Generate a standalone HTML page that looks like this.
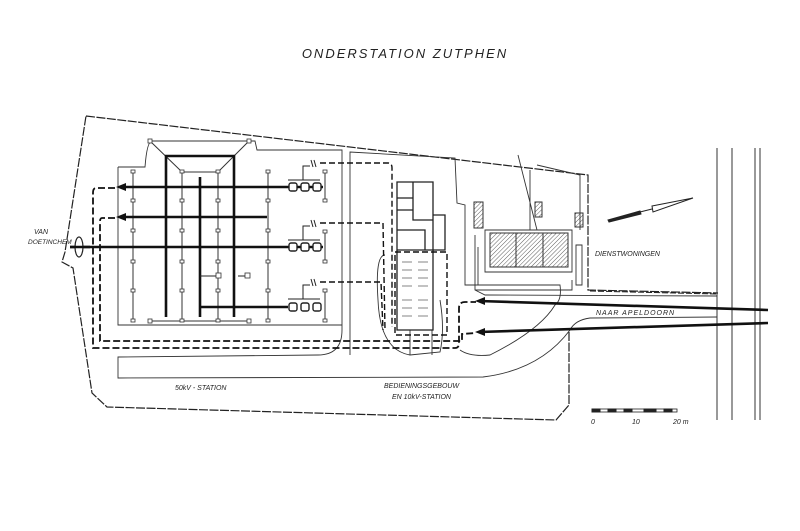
<!DOCTYPE html>
<html><head><meta charset="utf-8"><style>
html,body{margin:0;padding:0;background:#fff;}
svg{display:block;}
text{font-family:"Liberation Sans",sans-serif;font-style:italic;fill:#222;}
</style></head><body>
<svg width="800" height="531" viewBox="0 0 800 531" xmlns="http://www.w3.org/2000/svg">
<rect width="800" height="531" fill="#fff"/>
<defs>
<pattern id="h" width="3" height="3" patternUnits="userSpaceOnUse" patternTransform="rotate(45)"><line x1="0" y1="0" x2="0" y2="3" stroke="#333" stroke-width="0.8"/></pattern>
</defs>
<text x="405" y="58" font-size="13" text-anchor="middle" letter-spacing="2">ONDERSTATION ZUTPHEN</text>

<path d="M86,116 L588,175 L588,290 L718,293 M569,332 L569,405 L556,420 L107,407 L92,393 L73,268 L62,262 L65,252 L86,116" fill="none" stroke="#222" stroke-width="1.2" stroke-dasharray="9,1.5"/>

<g stroke="#333" stroke-width="1">
<line x1="717" y1="148" x2="717" y2="420"/><line x1="732" y1="148" x2="732" y2="420"/>
<line x1="755" y1="148" x2="755" y2="420"/><line x1="760" y1="148" x2="760" y2="420"/>
</g>

<g fill="none" stroke="#333" stroke-width="0.9">
<path d="M118,167 L145,167 Q147,141 152,141 L255,141 L257,150 L342,150 L342,330 Q342,355 318,355 L118,357 L118,378 L483,377 Q540,370 570,330 Q575,320 590,318 L717,317"/>
<path d="M118,167 L118,325 L342,325"/>
<path d="M350,355 L350,152 L455,158 L457,203 L465,205 L465,285 L560,285 Q562,300 555,305 Q540,330 490,355 Q470,357 460,350"/>
<path d="M475,235 L475,290 L485,295 L717,296"/>
<path d="M485,230 L572,230 L572,272 L485,272 Z"/>
<path d="M475,290 L572,290 L572,280"/>
<path d="M518,155 L537,230 M530,170 L530,230 M537,165 L580,175 L580,230"/>
<path d="M576,245 L582,245 L582,285 L576,285 Z"/>
<path d="M478,247 L478,285"/>
<path d="M385,255 Q375,255 378,300 Q380,350 410,355 L440,352 Q445,330 440,300"/>
<path d="M410,330 L410,355 M432,330 L432,355"/>
</g>

<g stroke="#333" stroke-width="1">
<rect x="490" y="233" width="78" height="34" fill="url(#h)"/>
<line x1="516" y1="233" x2="516" y2="267"/><line x1="543" y1="233" x2="543" y2="267"/>
<rect x="474" y="202" width="9" height="26" fill="url(#h)"/>
<rect x="535" y="202" width="7" height="15" fill="url(#h)"/>
<rect x="575" y="213" width="8" height="14" fill="url(#h)"/>
</g>

<g fill="none" stroke="#222" stroke-width="1.3">
<path d="M397,182 L433,182 L433,250 L397,250 Z"/>
<path d="M413,182 L413,220 L433,220 M397,198 L413,198 M397,210 L413,210 M397,230 L425,230 L425,250"/>
<path d="M433,215 L445,215 L445,250 L433,250"/>
<path d="M397,250 L397,330 L433,330 L433,250"/>
</g>
<g stroke="#666" stroke-width="0.8">
<line x1="402" y1="262" x2="412" y2="262"/><line x1="402" y1="270" x2="412" y2="270"/><line x1="402" y1="278" x2="412" y2="278"/><line x1="402" y1="286" x2="412" y2="286"/><line x1="402" y1="300" x2="412" y2="300"/><line x1="402" y1="308" x2="412" y2="308"/><line x1="402" y1="316" x2="412" y2="316"/>
<line x1="418" y1="262" x2="428" y2="262"/><line x1="418" y1="270" x2="428" y2="270"/><line x1="418" y1="278" x2="428" y2="278"/><line x1="418" y1="286" x2="428" y2="286"/><line x1="418" y1="300" x2="428" y2="300"/><line x1="418" y1="308" x2="428" y2="308"/><line x1="418" y1="316" x2="428" y2="316"/>
</g>

<g stroke="#333" stroke-width="1" fill="#fff">
<line x1="133" y1="172" x2="133" y2="321"/><line x1="182" y1="172" x2="182" y2="321"/>
<line x1="218" y1="172" x2="218" y2="321"/><line x1="268" y1="172" x2="268" y2="321"/>
<path d="M150,141 L182,172 L218,172 L249,141 M150,321 L249,321" fill="none"/>
<line x1="325" y1="172" x2="325" y2="200"/><line x1="325" y1="232" x2="325" y2="262"/><line x1="325" y1="290" x2="325" y2="321"/>
</g>
<g stroke="#333" stroke-width="0.8" fill="#fff">
<rect x="131" y="170" width="4" height="3"/><rect x="131" y="199" width="4" height="3"/><rect x="131" y="229" width="4" height="3"/><rect x="131" y="260" width="4" height="3"/><rect x="131" y="289" width="4" height="3"/><rect x="131" y="319" width="4" height="3"/>
<rect x="180" y="170" width="4" height="3"/><rect x="180" y="199" width="4" height="3"/><rect x="180" y="229" width="4" height="3"/><rect x="180" y="260" width="4" height="3"/><rect x="180" y="289" width="4" height="3"/><rect x="180" y="319" width="4" height="3"/>
<rect x="216" y="170" width="4" height="3"/><rect x="216" y="199" width="4" height="3"/><rect x="216" y="229" width="4" height="3"/><rect x="216" y="260" width="4" height="3"/><rect x="216" y="289" width="4" height="3"/><rect x="216" y="319" width="4" height="3"/>
<rect x="266" y="170" width="4" height="3"/><rect x="266" y="199" width="4" height="3"/><rect x="266" y="229" width="4" height="3"/><rect x="266" y="260" width="4" height="3"/><rect x="266" y="289" width="4" height="3"/><rect x="266" y="319" width="4" height="3"/>
<rect x="148" y="139" width="4" height="4"/><rect x="247" y="139" width="4" height="4"/><rect x="148" y="319" width="4" height="4"/><rect x="247" y="319" width="4" height="4"/>
<rect x="323" y="170" width="4" height="3"/><rect x="323" y="199" width="4" height="3"/><rect x="323" y="230" width="4" height="3"/><rect x="323" y="260" width="4" height="3"/><rect x="323" y="289" width="4" height="3"/><rect x="323" y="319" width="4" height="3"/>
<rect x="216" y="273" width="5" height="5"/><rect x="245" y="273" width="5" height="5"/>
</g>
<g stroke="#111" fill="none" stroke-width="2.6">
<path d="M166,317 L166,156 L234,156 L234,317"/>
<path d="M200,177 L200,317 M200,307 L288,307"/>
<line x1="120" y1="187" x2="323" y2="187"/>
<line x1="120" y1="217" x2="267" y2="217"/>
<line x1="70" y1="247" x2="323" y2="247"/>
<line x1="479" y1="301" x2="768" y2="310"/>
<line x1="479" y1="332" x2="768" y2="323"/>
</g>
<g stroke="#222" stroke-width="1"><line x1="200" y1="276" x2="216" y2="276"/><line x1="238" y1="276" x2="245" y2="276"/></g>
<g fill="#111">
<polygon points="116,187 126,183 126,191"/><polygon points="116,217 126,213 126,221"/>
<polygon points="475,301 485,297 485,305"/><polygon points="475,332 485,328 485,336"/>
</g>
<ellipse cx="79" cy="247" rx="4" ry="10" fill="#fff" stroke="#222" stroke-width="1.2"/>
<line x1="70" y1="247" x2="90" y2="247" stroke="#111" stroke-width="2.6"/>

<g fill="#fff" stroke="#222" stroke-width="1.4">
<rect x="289" y="183" width="8" height="8" rx="2"/><rect x="301" y="183" width="8" height="8" rx="2"/><rect x="313" y="183" width="8" height="8" rx="2"/>
<rect x="289" y="243" width="8" height="8" rx="2"/><rect x="301" y="243" width="8" height="8" rx="2"/><rect x="313" y="243" width="8" height="8" rx="2"/>
<rect x="289" y="303" width="8" height="8" rx="2"/><rect x="301" y="303" width="8" height="8" rx="2"/><rect x="313" y="303" width="8" height="8" rx="2"/>
</g>
<g stroke="#222" stroke-width="1" fill="none">
<path d="M288,180 L320,180 M303,180 L303,166 L310,166 M311,160 L313,167 M314,160 L316,167"/>
<path d="M288,240 L320,240 M303,240 L303,226 L310,226 M311,220 L313,227 M314,220 L316,227"/>
<path d="M288,299 L320,299 M303,299 L303,285 L310,285 M311,279 L313,286 M314,279 L316,286"/>
</g>
<g stroke="#111" fill="none" stroke-width="1.4" stroke-dasharray="6,3">
<path d="M320,163 L388,163 Q392,163 392,168 L392,327"/>
<path d="M320,223 L383,223 L385,330"/>
<path d="M320,282 L381,282 L383,330"/>
<path d="M395,252 L447,252 L447,335 L395,335 Z"/>
</g>
<g stroke="#111" fill="none" stroke-width="1.8" stroke-dasharray="7,3">
<path d="M115,188 L96,188 Q93,188 93,193 L93,348 L455,348 Q459,348 459,343 L459,308 Q459,302 465,302 L476,302"/>
<path d="M115,218 L102,218 Q100,218 100,222 L100,341 L462,341 L462,334 L476,333"/>
</g>
<line x1="590" y1="291" x2="717" y2="294" stroke="#222" stroke-width="1" stroke-dasharray="6,2"/>

<g stroke="#222" fill="#222">
<polygon points="608,220 640,211 641,214 609,222"/>
<line x1="640" y1="212" x2="652" y2="209" stroke-width="1"/>
<polygon points="652,206 693,198 653,212" fill="#fff" stroke-width="1"/>
</g>

<g stroke="#222">
<rect x="592" y="409" width="85" height="3" fill="#fff" stroke-width="0.8"/>
<rect x="592" y="409" width="8" height="3" fill="#222"/><rect x="608" y="409" width="8" height="3" fill="#222"/><rect x="624" y="409" width="8" height="3" fill="#222"/><rect x="644" y="409" width="12" height="3" fill="#222"/><rect x="664" y="409" width="8" height="3" fill="#222"/>
</g>
<g font-size="7">
<text x="591" y="424">0</text><text x="632" y="424">10</text><text x="673" y="424">20 m</text>
<text x="34" y="234">VAN</text><text x="28" y="244" font-size="6.5">DOETINCHEM</text>
<text x="175" y="390">50kV - STATION</text>
<text x="384" y="388">BEDIENINGSGEBOUW</text>
<text x="392" y="399">EN 10kV-STATION</text>
<text x="595" y="256">DIENSTWONINGEN</text>
<text x="596" y="315" letter-spacing="1">NAAR APELDOORN</text>
</g>
</svg>
</body></html>
